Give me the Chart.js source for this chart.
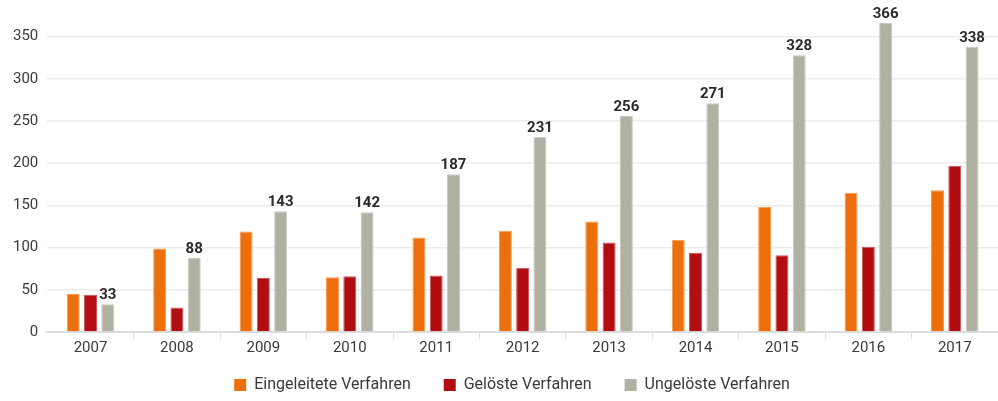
<!DOCTYPE html>
<html>
<head>
<meta charset="utf-8">
<script src="https://cdn.jsdelivr.net/npm/chart.js@4/dist/chart.umd.min.js"></script>
<style>
  html, body { margin: 0; padding: 0; background: #fff; }
  #wrap { width: 998px; height: 401px; position: relative; }
</style>
</head>
<body>
<div id="wrap"><canvas id="myChart"></canvas></div>
<script>
const years = ["2007","2008","2009","2010","2011","2012","2013","2014","2015","2016","2017"];
const eingeleitet = [45, 99, 119, 65, 112, 120, 131, 109, 148, 165, 168];
const geloest = [44, 29, 64, 66, 67, 76, 106, 94, 91, 101, 197];
const ungeloest = [33, 88, 143, 142, 187, 231, 256, 271, 328, 366, 338];
const yTicks = [0, 50, 100, 150, 200, 250, 300, 350];

const FONT = "Roboto, 'DejaVu Sans', sans-serif";

// labels on top of the grey bars
const topLabels = {
  id: 'topLabels',
  afterDatasetsDraw(chart) {
    const ctx = chart.ctx;
    const meta = chart.getDatasetMeta(2);
    ctx.save();
    ctx.font = "bold 15px " + FONT;
    ctx.fillStyle = '#2b2b2b';
    ctx.textAlign = 'center';
    ctx.textBaseline = 'alphabetic';
    meta.data.forEach((bar, i) => {
      ctx.fillText(ungeloest[i], bar.x, bar.y - 5);
    });
    ctx.restore();
  }
};

// legend: fixed height, then moved into place
const legendPlace = {
  id: 'legendPlace',
  beforeInit(chart) {
    const lg = chart.legend;
    const fit = lg.fit;
    lg.fit = function () { fit.call(this); this.height = 44; };
  },
  afterLayout(chart) {
    const lg = chart.legend;
    lg.top = 344; lg.bottom = 401;
    lg.left += 11; lg.right += 11;
  }
};

const data = {
  labels: years,
  datasets: [
    { label: 'Eingeleitete Verfahren', data: eingeleitet, backgroundColor: '#ec6f0b', borderColor: '#f29a55', borderWidth: 1 },
    { label: 'Gelöste Verfahren', data: geloest, backgroundColor: '#b20e12', borderColor: '#c9545a', borderWidth: 1 },
    { label: 'Ungelöste Verfahren', data: ungeloest, backgroundColor: '#b0b0a3', borderColor: '#c8c8bf', borderWidth: 1 }
  ]
};

const config = {
  type: 'bar',
  data: data,
  plugins: [topLabels, legendPlace],
  options: {
    responsive: true,
    maintainAspectRatio: false,
    animation: false,
    layout: { padding: { left: 4, right: 0, top: 0, bottom: 0 } },
    datasets: { bar: { categoryPercentage: 0.6, barPercentage: 0.75 } },
    plugins: {
      tooltip: { enabled: false },
      legend: {
        position: 'bottom',
        labels: {
          boxWidth: 12,
          boxHeight: 12,
          padding: 33,
          color: '#3a3a3a',
          generateLabels: (chart) => chart.data.datasets.map((ds, i) => ({
            text: ds.label, fillStyle: ds.backgroundColor, strokeStyle: ds.backgroundColor,
            lineWidth: 0, hidden: false, datasetIndex: i, fontColor: '#3a3a3a'
          })),
          font: { family: FONT, size: 16 }
        }
      }
    },
    scales: {
      x: {
        grid: {
          drawOnChartArea: false,
          tickLength: 7,
          color: (c) => (c.index === 0 || c.index === undefined) ? 'rgba(0,0,0,0)' : '#dcdcdc'
        },
        border: { color: '#dcdcdc', width: 2 },
        ticks: { color: '#3a3a3a', padding: 0, font: { family: FONT, size: 15 } }
      },
      y: {
        min: 0,
        max: 372,
        afterBuildTicks: (axis) => { axis.ticks = yTicks.map(v => ({ value: v })); },
        grid: { color: '#ececec', lineWidth: 1.5, drawTicks: false },
        border: { display: false },
        ticks: { color: '#3a3a3a', padding: 9, font: { family: FONT, size: 15 } }
      }
    }
  }
};

const myChart = new Chart(document.getElementById('myChart'), config);
</script>
</body>
</html>
